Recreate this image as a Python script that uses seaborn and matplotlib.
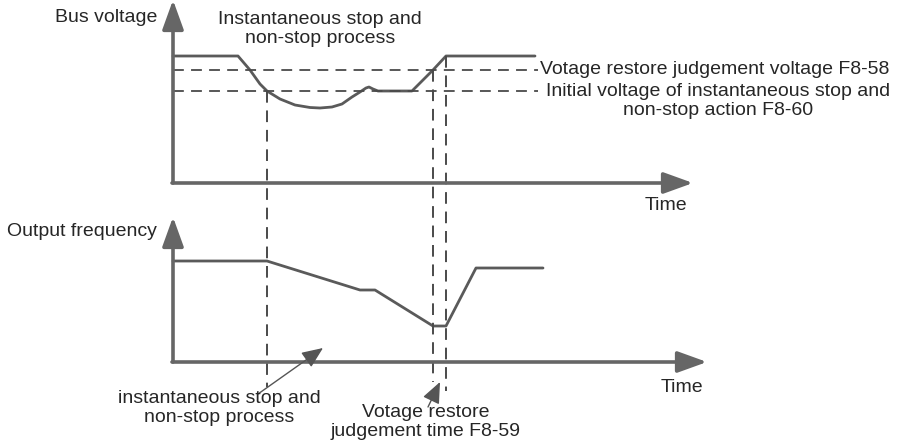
import matplotlib
matplotlib.use("Agg")
import matplotlib.pyplot as plt
import pandas as pd
import seaborn as sns

# Diagram drawn in a 907 x 447 canvas unit system (y grows downward)
# Bus voltage trace during an instantaneous stop / non-stop event
bus_t = [173, 238, 250, 260, 267, 280, 295, 310, 320, 332, 342, 352, 360,
         366, 369, 373, 378, 412, 433, 446, 535]
bus_v = [56, 56, 70, 84, 91, 99, 105, 107.5, 108, 107, 104, 97, 92,
         88, 87, 89, 91, 91, 70, 56, 56]

# Output frequency trace
freq_t = [173, 267, 360, 375, 433, 446, 476, 543]
freq_f = [261, 261, 290, 290, 326, 326, 268, 268]

# Threshold levels (F8-58 restore voltage, F8-60 action voltage)
level_f858 = 70
level_f860 = 91
level_x0, level_x1 = 173, 538

# Event markers: start of dip handling, restore judgement window
event_t = [267, 433, 446]
event_top = [91, 70, 56]
event_bottom = [387, 382, 391]

# Axes origins
top_origin = (173, 183)
bottom_origin = (173, 362)
top_y_tip, bottom_y_tip = 0, 217
top_x_tip, bottom_x_tip = 693, 707

sns.set_theme(style="white")
plt.rcParams["font.family"] = ["Liberation Sans", "DejaVu Sans"]

fig = plt.figure(figsize=(9.07, 4.47), dpi=100)
ax = fig.add_axes([0, 0, 1, 1])
ax.set_xlim(0, 907)
ax.set_ylim(447, 0)
ax.axis("off")

curve_col = "#5a5a5a"
axis_col = "#666666"
dash_col = "#4a4a4a"

bus_df = pd.DataFrame({"t": bus_t, "v": bus_v})
freq_df = pd.DataFrame({"t": freq_t, "f": freq_f})
sns.lineplot(data=bus_df, x="t", y="v", ax=ax, color=curve_col, lw=2.0,
             sort=False, estimator=None)
sns.lineplot(data=freq_df, x="t", y="f", ax=ax, color=curve_col, lw=2.0,
             sort=False, estimator=None)
ax.set_xlim(0, 907)
ax.set_ylim(447, 0)

# Threshold dashed lines
ax.hlines([level_f858, level_f860], level_x0, level_x1, colors=dash_col,
          linestyles=(0, (6, 4)), lw=1.3)
# Event dashed verticals
for t, y0, y1 in zip(event_t, event_top, event_bottom):
    ax.vlines(t, y0, y1, colors=dash_col, linestyles=(0, (6, 4)), lw=1.4)

# Coordinate axes with filled arrow heads
axis_arrow = dict(arrowstyle="-|>,head_length=18,head_width=6.5",
                  mutation_scale=1, color=axis_col, lw=2.6,
                  shrinkA=0, shrinkB=0)
ox, oy = top_origin
ax.annotate("", xy=(ox, top_y_tip), xytext=(ox, oy), arrowprops=axis_arrow)
ax.annotate("", xy=(top_x_tip, oy), xytext=(ox - 1, oy), arrowprops=axis_arrow)
ox, oy = bottom_origin
ax.annotate("", xy=(ox, bottom_y_tip), xytext=(ox, oy), arrowprops=axis_arrow)
ax.annotate("", xy=(bottom_x_tip, oy), xytext=(ox - 1, oy), arrowprops=axis_arrow)

# Pointer arrows for annotations
pointer = dict(arrowstyle="-|>,head_length=13,head_width=5.5",
               mutation_scale=1, color="#555555", lw=1.0,
               shrinkA=0, shrinkB=0)
ax.annotate("", xy=(323, 348), xytext=(258, 394), arrowprops=pointer)
ax.annotate("", xy=(440, 382), xytext=(428, 407), arrowprops=pointer)

fs = 14
ls = 1.12
ax.text(157, 17, "Bus voltage", ha="right", va="center", fontsize=fs)
ax.text(157, 232, "Output frequency", ha="right", va="center", fontsize=fs)
ax.text(320, 29, "Instantaneous stop and\nnon-stop process", ha="center",
        va="center", fontsize=fs, linespacing=ls)
ax.text(540, 70, "Votage restore judgement voltage F8-58", ha="left",
        va="center", fontsize=fs)
ax.text(718, 101, "Initial voltage of instantaneous stop and\nnon-stop action F8-60",
        ha="center", va="center", fontsize=fs, linespacing=ls)
ax.text(666, 205, "Time", ha="center", va="center", fontsize=fs)
ax.text(682, 388, "Time", ha="center", va="center", fontsize=fs)
ax.text(219, 408, "instantaneous stop and\nnon-stop process", ha="center",
        va="center", fontsize=fs, linespacing=ls)
ax.text(426, 422, "Votage restore\njudgement time F8-59", ha="center",
        va="center", fontsize=fs, linespacing=ls)

fig.savefig("out.png", dpi=100, facecolor="white")
